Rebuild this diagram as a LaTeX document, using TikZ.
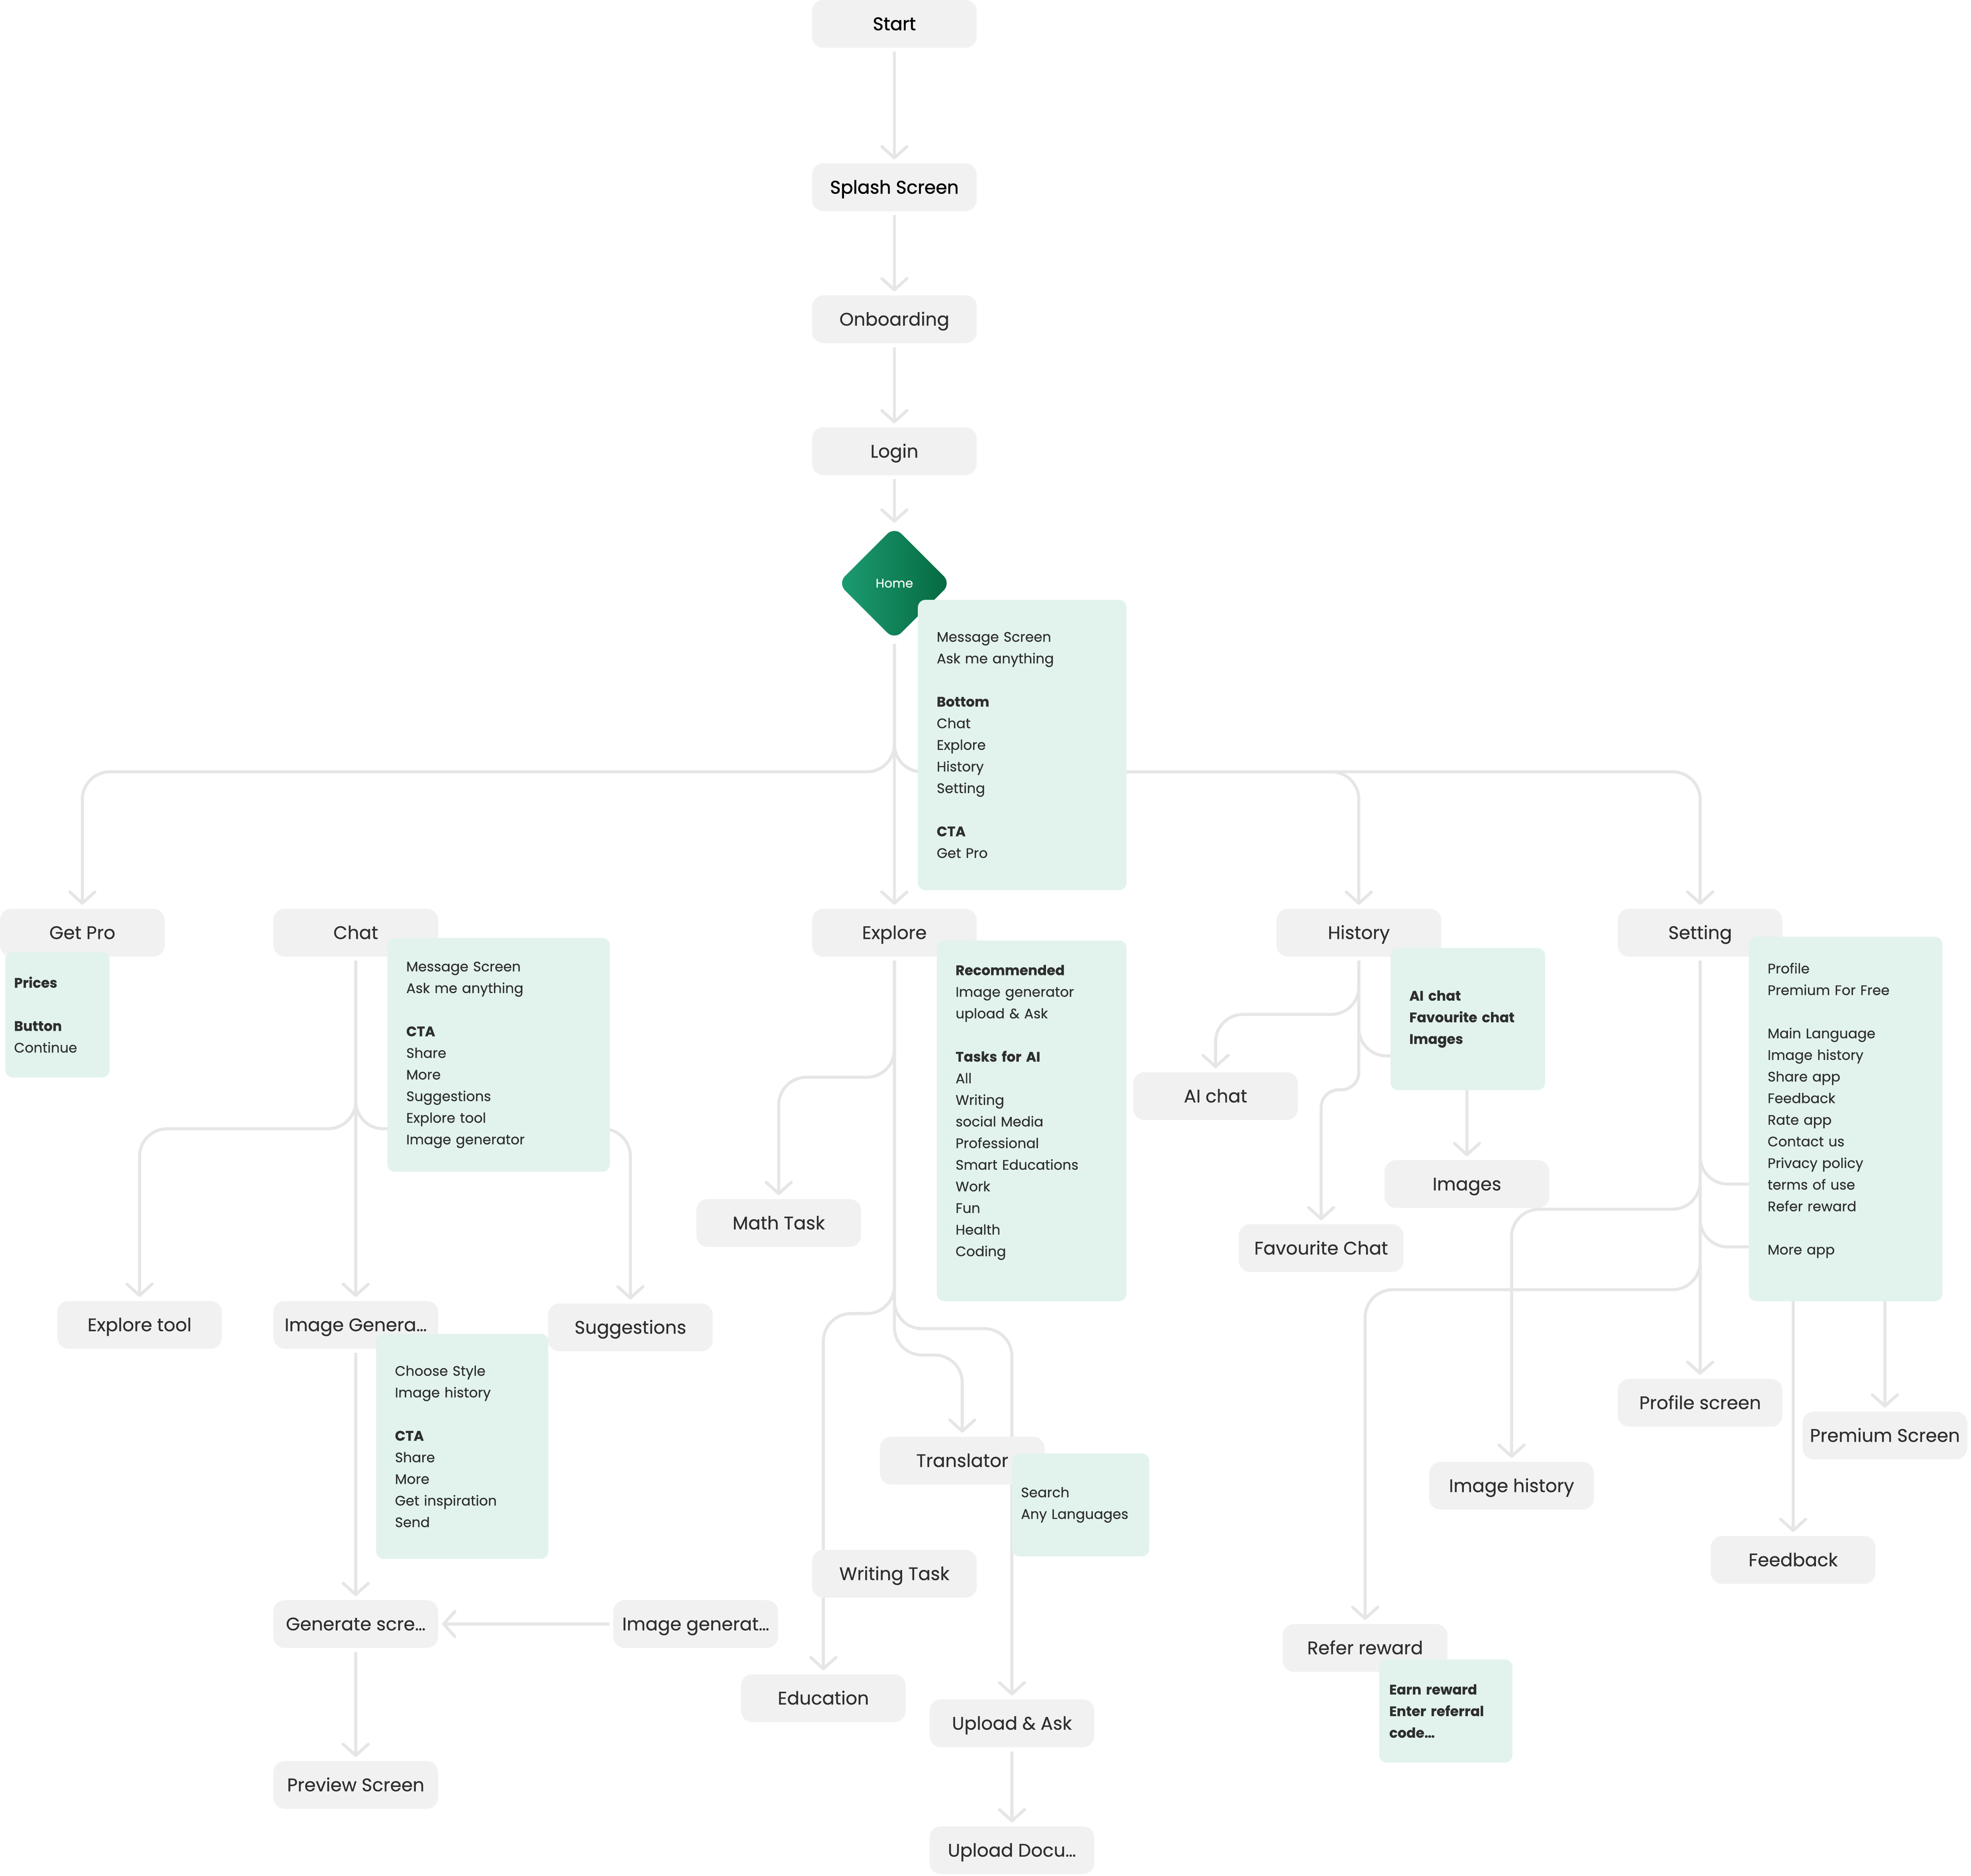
\documentclass[tikz,border=0pt]{standalone}
\usepackage{fontspec}
\setmainfont{Poppins}
\newfontfamily\MediumFace{Poppins}[FakeBold=0.4]
\newfontfamily\HeavyFace{Poppins}[FakeBold=1.3]
\usetikzlibrary{shapes.geometric,arrows.meta}
\definecolor{LineGray}{HTML}{E6E6E6}
\definecolor{BoxGray}{HTML}{F1F1F1}
\definecolor{NoteGreen}{HTML}{E2F3ED}
\definecolor{InkGray}{HTML}{2E2E2E}
\definecolor{HomeLight}{HTML}{1D9D72}
\definecolor{HomeDark}{HTML}{05683F}
\pgfdeclarelayer{back}
\pgfsetlayers{back,main}
\tikzset{
    screen/.style={fill=BoxGray, rounded corners=9pt, minimum width=131pt, minimum height=38pt,
        inner sep=0pt, text height=12pt, text depth=1.9pt, text=InkGray,
        font=\MediumFace\fontsize{14.5}{17}\selectfont},
    notebox/.style={fill=NoteGreen, rounded corners=6pt, anchor=north west, align=left,
        inner xsep=15pt, inner ysep=0pt, text=InkGray, font=\MediumFace\fontsize{11}{17.2}\selectfont},
    homeshape/.style={diamond, aspect=1, minimum width=90pt, minimum height=90pt, inner sep=0pt,
        rounded corners=8pt, left color=HomeLight, right color=HomeDark, text=white,
        font=\MediumFace\fontsize{10}{12}\selectfont},
    flow/.style={draw=LineGray, line width=2.4pt, rounded corners=22pt, shorten <=3pt, shorten >=3pt,
        -{Straight Barb[length=9pt,width=20pt,round]}},
}
\newcommand\NoteBox[6][]{%
    \node[notebox,#1,text width=#4,minimum height=#5] (#2) at (#3) {#6};
}

\begin{document}
\begin{tikzpicture}[x=1pt,y=-1pt]
    \useasboundingbox (0,0) rectangle (1568,1492.4);
    % main line
    \node[screen,font=\HeavyFace\fontsize{14.5}{17}\selectfont,text=black] (Start) at (711.5,19) {Start};
    \node[screen,font=\HeavyFace\fontsize{14.5}{17}\selectfont,text=black] (Splash) at (711.5,149) {Splash Screen};
    \node[screen] (Onboarding) at (711.5,254) {Onboarding};
    \node[screen] (Login) at (711.5,359) {Login};
    \node[homeshape] (Home) at (711.5,464) {Home};
    \node[screen] (GetPro) at (65.5,742) {Get Pro};
    \node[screen] (Chat) at (283,742) {Chat};
    \node[screen] (Explore) at (711.5,742) {Explore};
    \node[screen] (History) at (1081,742) {History};
    \node[screen] (Setting) at (1352.5,742) {Setting};
    % chat
    \node[screen] (ExploreTool) at (111,1054) {Explore tool};
    \node[screen] (ImgGen) at (283,1054) {Image Genera…};
    \node[screen] (Suggestions) at (501.5,1056) {Suggestions};
    \node[screen] (GenScreen) at (283,1292) {Generate scre…};
    \node[screen] (ImgGenerat) at (553.5,1292) {Image generat…};
    \node[screen] (Preview) at (283,1420) {Preview Screen};
    % explore
    \node[screen] (MathTask) at (619.5,973) {Math Task};
    \node[screen] (Translator) at (765.5,1162) {Translator};
    \node[screen] (Writing) at (711.5,1252) {Writing Task};
    \node[screen] (Education) at (655,1351) {Education};
    \node[screen] (Upload) at (805,1371) {Upload \& Ask};
    \node[screen] (UploadDoc) at (805,1472) {Upload Docu…};
    % history
    \node[screen] (AIChat) at (967,872) {AI chat};
    \node[screen] (Images) at (1167,942) {Images};
    \node[screen] (FavChat) at (1051,993) {Favourite Chat};
    % setting
    \node[screen] (Profile) at (1352.5,1116) {Profile screen};
    \node[screen] (Premium) at (1499.5,1142) {Premium Screen};
    \node[screen] (ImgHistory) at (1202.5,1182) {Image history};
    \node[screen] (Feedback) at (1426.5,1241) {Feedback};
    \node[screen] (Refer) at (1086,1311) {Refer reward};

    \NoteBox{HomeNote}{730,477}{136pt}{231pt}{Message Screen\\ Ask me anything\\[17.2pt]
        \textbf{Bottom}\\ Chat\\ Explore\\ History\\ Setting\\[17.2pt] \textbf{CTA}\\ Get Pro}
    \NoteBox[inner xsep=7pt]{GetProNote}{4,757}{69pt}{100pt}{\textbf{Prices}\\[17.2pt]
        \textbf{Button}\\ Continue}
    \NoteBox{ChatNote}{308,746}{147pt}{186pt}{Message Screen\\ Ask me anything\\[17.2pt]
        \textbf{CTA}\\ Share\\ More\\ Suggestions\\ Explore tool\\ Image generator}
    \NoteBox{ExploreNote}{745,748}{121pt}{287pt}{\textbf{Recommended}\\ Image generator\\ upload \& Ask\\[17.2pt]
        \textbf{Tasks for AI}\\ All\\ Writing\\ social Media\\ Professional\\ Smart Educations\\
        Work\\ Fun\\ Health\\ Coding\\[-0.8pt]\mbox{}}
    \NoteBox[font=\MediumFace\fontsize{11}{17.2}\selectfont\bfseries]{HistoryNote}{1106,754}{93pt}{113pt}{AI chat\\
        Favourite chat\\ Images}
    \NoteBox{SettingNote}{1391,745}{124pt}{290pt}{Profile\\ Premium For Free\\[17.2pt]
        Main Language\\ Image history\\ Share app\\ Feedback\\ Rate app\\ Contact us\\
        Privacy policy\\ terms of use\\ Refer reward\\[17.2pt] More app\\[-0.8pt]\mbox{}}
    \NoteBox{ImgGenNote}{299,1061}{107pt}{179pt}{Choose Style\\ Image history\\[17.2pt]
        \textbf{CTA}\\ Share\\ More\\ Get inspiration\\ Send}
    \NoteBox[inner xsep=7pt]{TranslatorNote}{805,1156}{95pt}{82pt}{Search\\ Any Languages}
    \NoteBox[inner xsep=8pt,font=\MediumFace\fontsize{11}{17.2}\selectfont\bfseries]{ReferNote}{1097,1320}{90pt}{82pt}{Earn reward\\
        Enter referral\\ code…}

    \coordinate (HomeSplit) at (711.5,614);
    \coordinate (ChatSplit) at (283,898);
    \coordinate (ExploreSplitA) at (711.5,857);
    \coordinate (ExploreSplitB) at (711.5,1045);
    \coordinate (ExploreSplitC) at (711.5,1057);
    \coordinate (ExploreSplitD) at (711.5,1078);
    \coordinate (HistorySplitA) at (1081,807);
    \coordinate (HistorySplitB) at (1081,840);
    \coordinate (HistorySplitC) at (1081,867);
    \coordinate (SettingSplitA) at (1352.5,942);
    \coordinate (SettingSplitB) at (1352.5,962);
    \coordinate (SettingSplitC) at (1352.5,992);
    \coordinate (SettingSplitD) at (1352.5,1026);

    \begin{pgfonlayer}{back}
        \fill[white] (0,0) rectangle (1568,1492.4);
        % main line
        \draw[flow] (Start) -- (Splash);
        \draw[flow] (Splash) -- (Onboarding);
        \draw[flow] (Onboarding) -- (Login);
        \draw[flow] (Login) -- (Home);
        \draw[flow] (Home) -- (Explore);
        \foreach \t in {GetPro,History,Setting}
            \draw[flow] (Home) -- (HomeSplit) -| (\t);
        % chat
        \draw[flow] (Chat) -- (ImgGen);
        \foreach \t in {ExploreTool,Suggestions}
            \draw[flow] (Chat) -- (ChatSplit) -| (\t);
        \draw[flow] (ImgGen) -- (GenScreen);
        \draw[flow] (ImgGenerat) -- (GenScreen);
        \draw[flow] (GenScreen) -- (Preview);
        % explore
        \draw[flow] (Explore) -- (ExploreSplitA) -| (MathTask);
        \draw[flow] (Explore) -- (ExploreSplitB) -| (Education);
        \draw[flow] (Explore) -- (ExploreSplitC) -| (Upload);
        \draw[flow] (Explore) -- (ExploreSplitD) -| (Translator);
        \draw[flow] (Upload) -- (UploadDoc);
        % history
        \draw[flow] (History) -- (HistorySplitA) -| (AIChat);
        \draw[flow] (History) -- (HistorySplitB) -| (Images);
        \draw[flow,rounded corners=14pt] (History) -- (HistorySplitC) -| (FavChat);
        % setting
        \draw[flow] (Setting) -- (Profile);
        \draw[flow] (Setting) -- (SettingSplitA) -| (Feedback);
        \draw[flow] (Setting) -- (SettingSplitB) -| (ImgHistory);
        \draw[flow] (Setting) -- (SettingSplitC) -| (Premium);
        \draw[flow] (Setting) -- (SettingSplitD) -| (Refer);
    \end{pgfonlayer}
\end{tikzpicture}
\end{document}
